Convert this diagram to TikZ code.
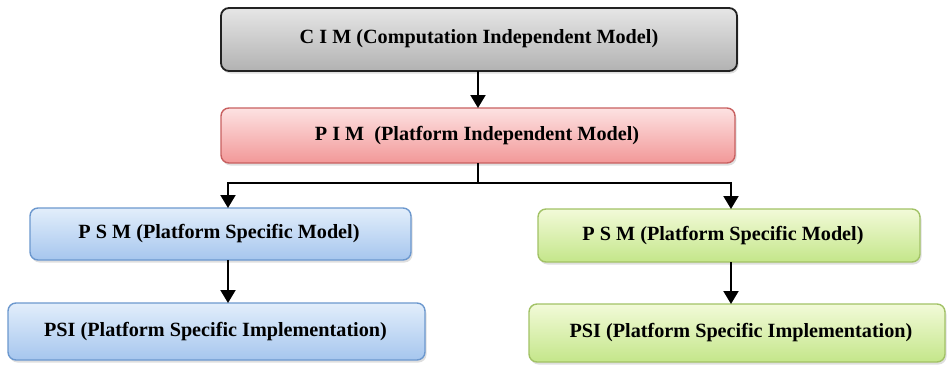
\documentclass[tikz,border=0pt]{standalone}
\usepackage{fontspec}
\setmainfont{Liberation Serif}
\usetikzlibrary{arrows.meta,shadows}
\definecolor{grayT}{HTML}{E6E6E6}
\definecolor{grayB}{HTML}{B2B2B2}
\definecolor{grayD}{HTML}{222222}
\definecolor{pinkT}{HTML}{FDE2E2}
\definecolor{pinkB}{HTML}{F29898}
\definecolor{pinkD}{HTML}{C86060}
\definecolor{blueT}{HTML}{E2EEFB}
\definecolor{blueB}{HTML}{A6C6EE}
\definecolor{blueD}{HTML}{6C98CE}
\definecolor{greenT}{HTML}{F2FAD8}
\definecolor{greenB}{HTML}{C4E68A}
\definecolor{greenD}{HTML}{A2C266}
\tikzset{
  box/.style={rounded corners=8pt, line width=1.4pt,
    drop shadow={shadow xshift=1.5pt, shadow yshift=-2.5pt, opacity=0.25}},
  cimbox/.style={box, draw=grayD, line width=1.8pt, top color=grayT, bottom color=grayB},
  pimbox/.style={box, draw=pinkD, top color=pinkT, bottom color=pinkB},
  bluebox/.style={box, draw=blueD, top color=blueT, bottom color=blueB},
  greenbox/.style={box, draw=greenD, top color=greenT, bottom color=greenB},
  label/.style={font=\bfseries\fontsize{20.2}{22}\selectfont, inner sep=0pt},
  conn/.style={line width=2pt, draw=black},
  arr/.style={conn, -{Triangle[length=13pt,width=15pt]}}
}
\begin{document}
\begin{tikzpicture}[x=1pt,y=-1pt]
\useasboundingbox (0,0) rectangle (952,365);
\path[cimbox] (221,8) rectangle (737,71);
\node[label] (cim) at (479,39) {C I M (Computation Independent Model)};
\path[pimbox] (221,108) rectangle (735,163);
\node[label] (pim) at (477,135.5) {P I M\ \ (Platform Independent Model)};
\path[bluebox] (30,208) rectangle (411,260);
\node[label] (psmL) at (219,234) {P S M (Platform Specific Model)};
\path[bluebox] (8,303) rectangle (425,360);
\node[label] (psiL) at (215.5,331.5) {PSI (Platform Specific Implementation)};
\path[greenbox] (538,209) rectangle (920,262);
\node[label] (psmR) at (723,235.5) {P S M (Platform Specific Model)};
\path[greenbox] (529,304) rectangle (945,362);
\node[label] (psiR) at (741,333) {PSI (Platform Specific Implementation)};
\coordinate (cimB) at (478,71);
\coordinate (pimT) at (478,108);
\coordinate (pimB) at (478,163);
\coordinate (j) at (478,183);
\coordinate (jl) at (228,183);
\coordinate (jr) at (731,183);
\coordinate (psmLT) at (228,208);
\coordinate (psmRT) at (731,209);
\coordinate (psmLB) at (228,260);
\coordinate (psmRB) at (731,262);
\coordinate (psiLT) at (228,303);
\coordinate (psiRT) at (731,304);
\draw[arr] (cimB) -- (pimT);
\draw[conn] (pimB) -- (j);
\draw[conn, line cap=rect] (jl) -- (jr);
\draw[arr] (jl) -- (psmLT);
\draw[arr] (jr) -- (psmRT);
\draw[arr] (psmLB) -- (psiLT);
\draw[arr] (psmRB) -- (psiRT);
\end{tikzpicture}
\end{document}
